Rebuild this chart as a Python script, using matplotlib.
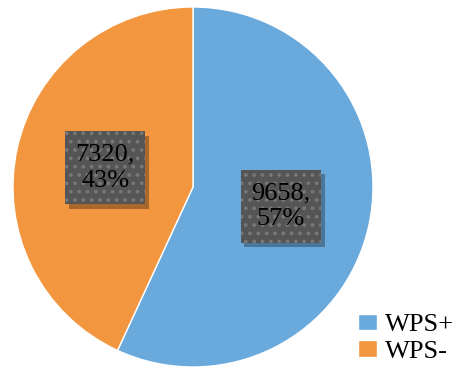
import matplotlib.pyplot as plt
import matplotlib.patches as mpatches

labels = ['WPS+', 'WPS-']
counts = [9658, 7320]
colors = ['#6aa9dc', '#f2963f']

plt.rcParams['font.family'] = ['Liberation Serif', 'DejaVu Serif']
plt.rcParams['hatch.color'] = '#6e6e6e'
plt.rcParams['hatch.linewidth'] = 1.5

fig = plt.figure(figsize=(4.68, 3.7), dpi=100)
ax = fig.add_axes([13 / 468, 3 / 370, 360 / 468, 360 / 370])

total = sum(counts)


def fmt(p):
    v = int(round(p * total / 100))
    return '%d,\n%d%%' % (v, round(p))


wedges, texts, autotexts = ax.pie(counts, colors=colors, startangle=90, counterclock=False,
                                  autopct=fmt, pctdistance=0.5,
                                  wedgeprops=dict(edgecolor='white', linewidth=1))
ax.set_xlim(-1, 1)
ax.set_ylim(-1, 1)
ax.set_aspect('equal')

# label boxes (data units, pie radius = 1)
bw, bh = 0.445, 0.405
for t in autotexts:
    t.set_fontsize(19)
    t.set_color('black')
    t.set_linespacing(1.25)
    t.set_zorder(6)
    x, y = t.get_position()
    shadow = mpatches.Rectangle((x - bw / 2 + 0.02, y - bh / 2 - 0.025), bw, bh,
                                facecolor='black', alpha=0.3, linewidth=0, zorder=4)
    box = mpatches.Rectangle((x - bw / 2, y - bh / 2), bw, bh, facecolor='#555555',
                             edgecolor='#777777', linewidth=0, hatch='..', zorder=5)
    ax.add_patch(shadow)
    ax.add_patch(box)

leg = fig.legend(wedges, labels, loc='lower right', bbox_to_anchor=(1.02, -0.045),
                 frameon=False, fontsize=19, handlelength=0.7, handleheight=0.6,
                 handletextpad=0.3, labelspacing=0.15)

fig.savefig('out.png', dpi=100)
